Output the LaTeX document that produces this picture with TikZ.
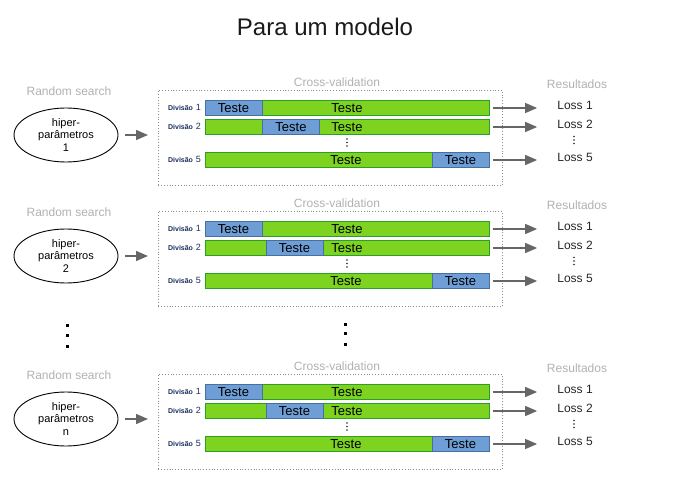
\documentclass[tikz,border=0pt]{standalone}
\usepackage{fontspec}
\setmainfont{Liberation Sans}
\usetikzlibrary{arrows.meta,shapes.geometric}
\definecolor{gfill}{HTML}{7ED321}
\definecolor{gline}{HTML}{2A9F2A}
\definecolor{bfill}{HTML}{6F9ED6}
\definecolor{bline}{HTML}{44719F}
\definecolor{lgray}{HTML}{B4B0B4}
\definecolor{navy}{HTML}{1C2E5C}
\definecolor{arrgray}{HTML}{666666}
\tikzset{
 gbar/.style={draw=gline, fill=gfill, line width=1.2pt, minimum height=15pt, minimum width=284pt, inner sep=0pt, anchor=west},
 bbar/.style={draw=bline, fill=bfill, line width=1pt, minimum height=15pt, minimum width=57pt, inner sep=0pt, anchor=west, font=\fontsize{13}{13}\selectfont},
 btxt/.style={font=\fontsize{13}{13}\selectfont, inner sep=0pt},
 divlbl/.style={anchor=east, text=navy, inner sep=0pt},
 graylbl/.style={text=lgray, font=\fontsize{12}{12}\selectfont, inner sep=0pt},
 losslbl/.style={font=\fontsize{12}{12}\selectfont, text=black!85, inner sep=0pt},
 hp/.style={ellipse, draw, line width=0.9pt, minimum width=104pt, minimum height=54pt, inner sep=0pt, align=center, font=\fontsize{11}{12.5}\selectfont},
 cvbox/.style={draw=black!45, dotted, line width=0.8pt, inner sep=0pt, anchor=north west, minimum width=344pt, minimum height=95pt},
 arr/.style={draw=arrgray, line width=1.4pt, -{Triangle[length=12pt,width=10pt]}},
 dotsq/.style={fill=black, minimum size=3pt, inner sep=0pt},
 sdot/.style={circle, fill=black!85, minimum size=1.6pt, inner sep=0pt},
}
\newcommand{\divl}[1]{{\fontsize{7}{7}\selectfont\bfseries Divisão} {\fontsize{9}{9}\selectfont #1}}
\newcommand{\cvblock}[4]{%
\begin{scope}[shift={(0,#2)}]
 \node[graylbl] (#1rs) at (69,-17) {Random search};
 \node[hp] (#1hp) at (66,27) {hiper-\\parâmetros\\#3};
 \node[cvbox] (#1box) at (158,-18) {};
 \node[graylbl] (#1cv) at (337,-26) {Cross-validation};
 \draw[arr, shorten <=7pt, shorten >=10pt] (#1hp.east) -- (#1hp.east -| #1box.west);
 % rows
 \node[gbar] (#1r1) at (204.5,0) {};
 \node[bbar] (#1b1) at (204.5,0) {Teste};
 \node[btxt] (#1g1) at (347,0) {Teste};
 \node[divlbl] (#1d1) at (201,-1) {\divl{1}};
 \node[gbar] (#1r2) at (204.5,19) {};
 \node[bbar] (#1b2) at (#4,19) {Teste};
 \node[btxt] (#1g2) at (347,19) {Teste};
 \node[divlbl] (#1d2) at (201,18) {\divl{2}};
 \node[sdot] (#1va) at (347,31) {};
 \node[sdot] (#1vb) at (347,34.5) {};
 \node[sdot] (#1vc) at (347,38) {};
 \node[gbar] (#1r5) at (204.5,52) {};
 \node[bbar] (#1b5) at (431.5,52) {Teste};
 \node[btxt] (#1g5) at (346,52) {Teste};
 \node[divlbl] (#1d5) at (201,51) {\divl{5}};
 % results
 \node[graylbl] (#1res) at (577,-24) {Resultados};
 \node[losslbl] (#1l1) at (575,-2.5) {Loss 1};
 \node[losslbl] (#1l2) at (575,16) {Loss 2};
 \node[sdot] (#1la) at (574,28.5) {};
 \node[sdot] (#1lb) at (574,32) {};
 \node[sdot] (#1lc) at (574,35.5) {};
 \node[losslbl] (#1l5) at (575,49.5) {Loss 5};
 \draw[arr, shorten <=3pt, shorten >=20pt] (#1r1.east) -- (#1r1.east -| #1l1.west);
 \draw[arr, shorten <=3pt, shorten >=20pt] (#1r2.east) -- (#1r2.east -| #1l2.west);
 \draw[arr, shorten <=3pt, shorten >=20pt] (#1r5.east) -- (#1r5.east -| #1l5.west);
\end{scope}}
\begin{document}
\begin{tikzpicture}[x=1pt,y=-1pt]
\useasboundingbox[fill=white] (0,0) rectangle (679,502);
\node[font=\fontsize{24}{24}\selectfont, text=black!90, inner sep=0pt] (title) at (325,27) {Para um modelo};
\cvblock{a}{108}{1}{262}
\cvblock{b}{229}{2}{265.5}
\cvblock{c}{392}{n}{265.5}
\node[dotsq] (dl1) at (67,325.7) {};
\node[dotsq] (dl2) at (67,335) {};
\node[dotsq] (dl3) at (67,346) {};
\node[dotsq] (dm1) at (345,324) {};
\node[dotsq] (dm2) at (345,333.3) {};
\node[dotsq] (dm3) at (345,344) {};
\end{tikzpicture}
\end{document}
